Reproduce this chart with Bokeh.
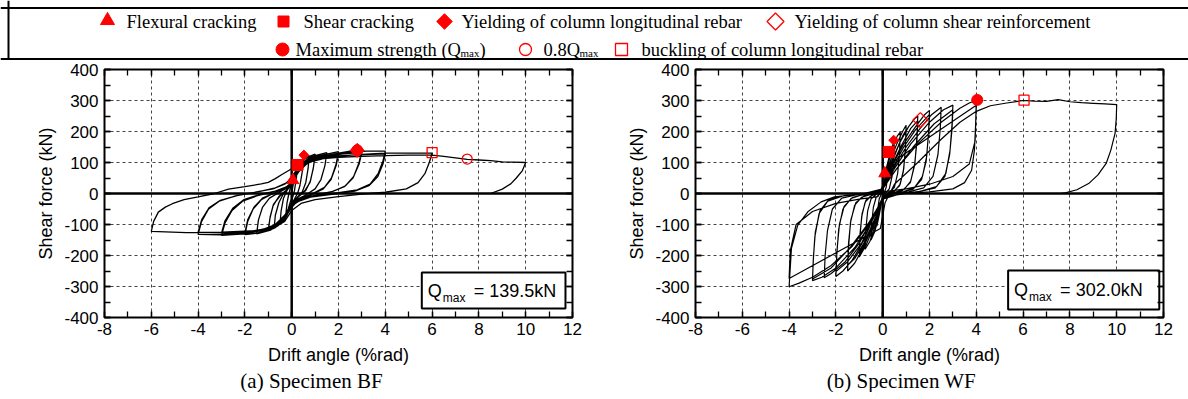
import math
from bokeh.plotting import figure
from bokeh.models import Span, LinearAxis, FixedTicker, Range1d
from bokeh.layouts import column, row
from bokeh.embed import file_html
from bokeh.resources import INLINE
from bokeh.core.properties import value

# ---------------- tick values ----------------
x_ticks = [-8, -6, -4, -2, 0, 2, 4, 6, 8, 10, 12]
x_minor = [-8, -7, -6, -5, -4, -3, -2, -1, 0, 1, 2, 3, 4, 5, 6, 7, 8, 9, 10, 11, 12]
y_ticks = [-400, -300, -200, -100, 0, 100, 200, 300, 400]
y_minor = [-400, -350, -300, -250, -200, -150, -100, -50, 0, 50, 100, 150, 200, 250, 300, 350, 400]

legend_row1 = ["Flexural cracking", "Shear cracking",
               "Yielding of column longitudinal rebar", "Yielding of column shear reinforcement"]
legend_row2 = ["Maximum strength (Q", "0.8Q", "buckling of column longitudinal rebar"]

captions = ["(a) Specimen BF", "(b) Specimen WF"]
qmax_values = ["= 139.5kN", "= 302.0kN"]

# ---------------- Specimen BF (drift %rad, shear kN) ----------------
bf_small_cycles = [
    (0, 0), (0.1, 45), (0.25, 90),
    (0.2, 50), (0.12, 10), (0.05, -10), (-0.05, -25), (-0.15, -50), (-0.25, -68),
    (-0.2, -30), (-0.12, 0), (-0.05, 20), (0.05, 45),
    (0.15, 70), (0.3, 100), (0.5, 113),
    (0.45, 70), (0.35, 25), (0.25, 0), (0.1, -20), (-0.05, -40), (-0.2, -70), (-0.35, -88), (-0.5, -97),
    (-0.45, -55), (-0.35, -15), (-0.2, 10), (0, 30),
    (0.15, 60), (0.3, 95), (0.5, 112), (0.75, 122),
    (0.7, 80), (0.6, 35), (0.45, 5), (0.2, -15), (0, -30), (-0.2, -65), (-0.4, -92), (-0.6, -105), (-0.75, -112),
    (-0.7, -70), (-0.55, -30), (-0.35, 0), (-0.1, 20), (0.05, 40),
    (0.2, 75), (0.45, 105), (0.7, 118), (1, 127),
    (0.93, 85), (0.8, 40), (0.6, 10), (0.3, -10), (0, -30), (-0.2, -60), (-0.45, -92), (-0.7, -110), (-1, -120),
    (-0.93, -80), (-0.8, -40), (-0.55, -10), (-0.25, 10), (0, 30),
    (0.2, 65), (0.5, 100), (0.75, 115), (1, 122),
    (0.92, 80), (0.78, 35), (0.55, 8), (0.25, -12), (0, -32), (-0.25, -65), (-0.5, -95), (-0.75, -108), (-1, -116),
    (-0.92, -75), (-0.78, -35), (-0.5, -8), (-0.2, 12), (0, 28),
]
bf_mid_cycles = [
    (0.25, 75), (0.5, 102), (1, 122), (1.5, 132),
    (1.42, 90), (1.25, 45), (1, 15), (0.6, -5), (0.2, -20), (0, -35), (-0.2, -60), (-0.5, -95), (-0.9, -118), (-1.5, -130),
    (-1.42, -85), (-1.25, -45), (-0.95, -15), (-0.5, 5), (-0.15, 20), (0, 35),
    (0.25, 72), (0.5, 98), (1, 118), (1.5, 127), (2, 135),
    (1.9, 95), (1.7, 50), (1.4, 20), (0.9, 0), (0.4, -15), (0.1, -30), (0, -40), (-0.2, -65), (-0.5, -95), (-1, -118),
    (-1.5, -128), (-2, -133),
    (-1.88, -90), (-1.65, -50), (-1.3, -20), (-0.8, 0), (-0.3, 15), (0, 30),
    (0.3, 75), (0.6, 100), (1, 112), (1.5, 122), (2, 128),
    (1.9, 90), (1.68, 45), (1.35, 15), (0.8, -5), (0.3, -18), (0, -38), (-0.3, -72), (-0.6, -100), (-1, -113),
    (-1.5, -122), (-2, -127),
    (-1.88, -85), (-1.62, -45), (-1.25, -15), (-0.7, 3), (-0.25, 18), (0, 32),
    (0.3, 72), (0.6, 98), (1, 115), (2, 130), (2.5, 137), (3, 140),
    (2.88, 100), (2.65, 55), (2.3, 25), (1.8, 8), (1, -5), (0.4, -18), (0, -35), (-0.2, -60), (-0.5, -90), (-1, -115),
    (-2, -130), (-3, -135),
    (-2.85, -95), (-2.55, -55), (-2.1, -25), (-1.5, -8), (-0.8, 5), (-0.3, 18), (0, 35),
    (0.3, 70), (0.7, 100), (1.5, 120), (2.2, 128), (3, 133),
    (2.88, 95), (2.62, 50), (2.25, 22), (1.7, 5), (0.9, -8), (0.3, -22), (0, -38), (-0.3, -70), (-0.7, -100),
    (-1.2, -115), (-2, -125), (-3, -128),
    (-2.85, -88), (-2.52, -48), (-2.05, -20), (-1.4, -4), (-0.7, 8), (-0.2, 22), (0, 38),
]
bf_large_cycles = [
    (0.3, 75), (0.7, 103), (1.5, 122), (2.5, 133), (3.2, 137), (4, 137),
    (3.9, 105), (3.7, 65), (3.35, 30), (2.8, 12), (2, 3), (1, -8), (0.4, -20), (0, -40), (-0.2, -65), (-0.5, -92),
    (-1, -113), (-2, -128), (-3, -133), (-4, -132),
    (-3.85, -90), (-3.55, -50), (-3.1, -25), (-2.4, -8), (-1.5, 5), (-0.8, 15), (-0.3, 30), (0, 50),
    (0.3, 80), (0.8, 102), (1.5, 115), (2.5, 124), (4, 128),
    (3.9, 95), (3.68, 55), (3.3, 25), (2.7, 8), (1.8, -2), (0.8, -12), (0.2, -28), (0, -45), (-0.3, -80),
    (-0.7, -105), (-1.5, -120), (-3, -127), (-4, -125),
    (-3.85, -85), (-3.52, -45), (-3.05, -22), (-2.3, -6), (-1.4, 6), (-0.7, 18), (-0.2, 35), (0, 55),
    (0.4, 95), (1, 112), (2, 121), (3, 126), (4, 130), (5, 130), (6, 130),
    (5.88, 100), (5.7, 65), (5.4, 35), (4.9, 15), (4, 4), (3, -2), (2, -10), (1, -20), (0.4, -32), (0, -55),
    (-0.3, -90), (-0.7, -108), (-1.5, -120), (-3, -125), (-4.5, -126), (-6, -122),
    (-5.9, -90), (-5.7, -60), (-5.4, -44), (-5.1, -33), (-4.6, -20), (-4, -11), (-3.3, 0), (-2.7, 14), (-2, 22),
    (-1.3, 31), (-1, 36), (-0.7, 48), (-0.4, 62), (0, 80),
    (0.4, 100), (1, 110), (2, 117), (3, 120), (4, 122), (5, 124), (6, 124), (6.5, 120), (7, 115), (7.5, 110),
    (8, 108), (8.5, 106), (9, 102), (9.5, 101), (10, 100),
    (9.86, 74), (9.6, 50), (9.36, 31), (9, 14), (8.5, 0),
]

# ---------------- Specimen WF ----------------
wf_small_cycles = [
    (0, 0), (0.1, 55), (0.25, 110),
    (0.22, 60), (0.15, 20), (0.05, 0), (-0.05, -30), (-0.15, -70), (-0.25, -105),
    (-0.22, -55), (-0.15, -18), (-0.05, 0), (0.05, 30),
    (0.15, 80), (0.35, 140), (0.5, 172),
    (0.47, 110), (0.4, 55), (0.28, 15), (0.1, 0), (-0.05, -30), (-0.2, -85), (-0.35, -125), (-0.5, -150),
    (-0.47, -95), (-0.4, -45), (-0.28, -12), (-0.1, 0), (0.05, 25),
    (0.2, 90), (0.45, 150), (0.62, 185), (0.75, 198),
    (0.72, 130), (0.64, 65), (0.5, 20), (0.3, 5), (0.05, -5), (-0.1, -40), (-0.3, -100), (-0.55, -155), (-0.75, -180),
    (-0.72, -115), (-0.64, -55), (-0.5, -18), (-0.3, -4), (-0.05, 5), (0.1, 30),
    (0.3, 100), (0.6, 160), (0.85, 200), (1, 220),
    (0.97, 150), (0.9, 80), (0.75, 30), (0.5, 8), (0.2, 0), (0, -15), (-0.15, -50), (-0.4, -110), (-0.7, -165), (-1, -205),
    (-0.97, -140), (-0.9, -75), (-0.75, -28), (-0.5, -8), (-0.2, 2), (0, 15),
    (0.3, 80), (0.6, 140), (0.85, 185), (1, 205),
    (0.97, 140), (0.88, 70), (0.72, 25), (0.45, 6), (0.15, 0), (0, -15), (-0.2, -55), (-0.5, -115), (-0.8, -165), (-1, -190),
    (-0.97, -130), (-0.88, -65), (-0.72, -22), (-0.45, -5), (-0.15, 3), (0, 18),
]
wf_mid_cycles = [
    (0.3, 90), (0.7, 160), (1.1, 215), (1.35, 240), (1.5, 250),
    (1.46, 180), (1.38, 100), (1.2, 40), (0.9, 12), (0.5, 4), (0.1, -5), (-0.1, -30), (-0.4, -100), (-0.8, -170),
    (-1.2, -225), (-1.5, -250),
    (-1.46, -175), (-1.38, -95), (-1.2, -38), (-0.9, -12), (-0.5, -3), (-0.1, 5), (0.05, 20),
    (0.35, 85), (0.8, 155), (1.2, 210), (1.5, 235),
    (1.46, 165), (1.36, 90), (1.18, 35), (0.85, 10), (0.4, 2), (0, -10), (-0.3, -75), (-0.8, -160), (-1.2, -210), (-1.5, -232),
    (-1.46, -160), (-1.36, -85), (-1.15, -30), (-0.8, -8), (-0.3, 2), (0, 15),
    (0.4, 90), (0.9, 160), (1.4, 215), (1.8, 255), (2, 268),
    (1.96, 200), (1.88, 120), (1.7, 55), (1.35, 18), (0.9, 6), (0.4, 0), (0, -12), (-0.3, -60), (-0.8, -150),
    (-1.3, -215), (-1.7, -250), (-2, -268),
    (-1.96, -195), (-1.88, -115), (-1.7, -50), (-1.35, -16), (-0.9, -5), (-0.4, 2), (0, 12),
    (0.4, 80), (0.9, 150), (1.4, 205), (2, 255),
    (1.95, 185), (1.86, 105), (1.66, 45), (1.3, 14), (0.8, 4), (0.3, -2), (0, -15), (-0.4, -80), (-0.9, -160),
    (-1.5, -220), (-2, -252),
    (-1.95, -180), (-1.85, -100), (-1.65, -42), (-1.3, -13), (-0.8, -3), (-0.3, 3), (0, 15),
    (0.4, 75), (1, 150), (1.6, 210), (2.1, 255), (2.5, 278),
    (2.46, 210), (2.36, 125), (2.15, 55), (1.75, 18), (1.1, 5), (0.5, 0), (0, -15), (-0.5, -90), (-1, -160),
    (-1.6, -220), (-2.2, -258), (-2.5, -272),
    (-2.46, -200), (-2.36, -120), (-2.15, -50), (-1.75, -15), (-1.1, -4), (-0.5, 2), (0, 14),
    (0.5, 80), (1.2, 160), (2, 230), (2.6, 270), (3, 285),
    (2.96, 220), (2.88, 140), (2.7, 65), (2.3, 22), (1.6, 7), (0.8, 0), (0.2, -10), (0, -20), (-0.5, -95),
    (-1.2, -175), (-2, -240), (-2.6, -270), (-3, -281),
    (-2.97, -220), (-2.9, -140), (-2.72, -65), (-2.35, -25), (-1.7, -8), (-0.9, -1), (-0.2, 8), (0, 18),
    (0.5, 70), (1.3, 150), (2.2, 225), (3, 270),
    (2.96, 205), (2.86, 125), (2.66, 55), (2.25, 18), (1.5, 5), (0.7, -2), (0, -18), (-0.6, -95), (-1.4, -175),
    (-2.2, -240), (-3, -276),
    (-2.96, -205), (-2.88, -125), (-2.68, -55), (-2.3, -20), (-1.6, -6), (-0.8, 0), (0, 15),
]
wf_large_cycles = [
    (0.6, 80), (1.5, 160), (2.5, 230), (3.3, 275), (3.7, 292), (4, 301),
    (3.97, 220), (3.92, 140), (3.8, 75), (3.5, 35), (3, 15), (2, 5), (1, 0), (0, -12),
    (-0.5, -90), (-1.3, -170), (-2.2, -232), (-3, -270), (-3.6, -290), (-4, -301),
    (-3.9, -177), (-3.63, -102), (-3.2, -59), (-2.63, -27), (-2.06, -11), (-1, -2), (0, 5),
    (1, 15), (2, 30), (3, 55), (3.7, 95), (3.95, 170), (4, 285),
    (0.3, 95), (0, 25), (-0.2, -10),
    (-1, -18), (-2, -32), (-3, -58), (-3.7, -100), (-3.95, -185), (-4, -274),
    (-0.1, -113), (0.1, -30),
    (0.5, 30), (1.5, 100), (2.5, 175), (3.3, 230), (4, 265), (4.6, 283), (5.3, 292), (6, 300), (6.5, 298),
    (7, 297), (7.5, 303), (8, 296), (8.5, 293), (9, 291), (9.5, 289), (10, 287),
    (9.98, 240), (9.93, 194), (9.75, 140), (9.55, 97), (9.2, 60), (8.8, 32), (8.3, 12), (7.8, 2), (7.6, 0),
]

bf_points = bf_small_cycles + bf_mid_cycles + bf_large_cycles
wf_points = wf_small_cycles + wf_mid_cycles + wf_large_cycles
bf_drift = [p[0] for p in bf_points]
bf_shear = [p[1] for p in bf_points]
wf_drift = [p[0] for p in wf_points]
wf_shear = [p[1] for p in wf_points]

# event markers (drift, shear)
bf_flexural = ([0.05], [43])
bf_shear_crack = ([0.25], [92])
bf_yield_long = ([0.52, 2.8], [124, 139])
bf_qmax = ([2.8], [139.5])
bf_08qmax = ([7.5], [111])
bf_buckling = ([6.0], [132])

wf_flexural = ([0.09], [65])
wf_shear_crack = ([0.26], [134])
wf_yield_long = ([0.47], [172])
wf_yield_shear = ([1.61], [237])
wf_qmax = ([4.04], [302])
wf_buckling = ([6.04], [301])

RED = "#ff0000"
SANS = "Liberation Sans"
SERIF = "Liberation Serif"
DIAM = math.pi / 4


def style_axis(ax, labels=True):
    ax.axis_line_color = None
    ax.major_tick_in = 6
    ax.major_tick_out = 0
    ax.minor_tick_in = 6
    ax.minor_tick_out = 0
    ax.major_tick_line_color = "black"
    ax.minor_tick_line_color = "black"
    ax.major_tick_line_width = 1.3
    ax.minor_tick_line_width = 1.3
    ax.major_label_text_font = SANS
    ax.axis_label_text_font = SANS
    ax.axis_label_text_font_size = "18px"
    ax.axis_label_text_font_style = "normal"
    ax.axis_label_text_color = "black"
    if labels:
        ax.major_label_text_font_size = "17px"
        ax.major_label_text_color = "black"
    else:
        ax.major_label_text_font_size = "1px"
        ax.major_label_text_color = None
        ax.major_label_standoff = 0


def make_plot(drift, shear, border_right, lw):
    p = figure(frame_width=468, frame_height=248, x_range=Range1d(-8, 12), y_range=Range1d(-400, 400),
               min_border_left=104, min_border_right=border_right, min_border_top=9, min_border_bottom=52,
               output_backend="svg", toolbar_location=None)
    p.outline_line_color = "black"
    p.outline_line_width = 2
    xt = FixedTicker(ticks=x_ticks, minor_ticks=x_minor)
    yt = FixedTicker(ticks=y_ticks, minor_ticks=y_minor)
    xa = p.xaxis[0]
    ya = p.yaxis[0]
    xa.ticker = xt
    ya.ticker = yt
    style_axis(xa)
    style_axis(ya)
    xa.major_label_overrides = {t: str(t) for t in x_ticks}
    ya.major_label_overrides = {t: str(t) for t in y_ticks}
    xa.axis_label = "Drift angle (%rad)"
    ya.axis_label = "Shear force (kN)"
    xa.major_label_standoff = 5
    xa.axis_label_standoff = 7
    ya.major_label_standoff = 6
    ya.axis_label_standoff = 5
    top = LinearAxis(ticker=xt)
    style_axis(top, labels=False)
    p.add_layout(top, "above")
    right = LinearAxis(ticker=yt)
    style_axis(right, labels=False)
    p.add_layout(right, "right")
    for g, t in ((p.xgrid[0], xt), (p.ygrid[0], yt)):
        g.ticker = t
        g.grid_line_color = "#444444"
        g.grid_line_dash = "3 3"
        g.grid_line_width = 1
    p.add_layout(Span(location=0, dimension="height", line_color="black", line_width=2.5, level="underlay"))
    p.add_layout(Span(location=0, dimension="width", line_color="black", line_width=2.5, level="underlay"))
    p.line(drift, shear, line_color="black", line_width=lw)
    return p


def qbox(p, left, right, top, bottom, rest):
    p.quad(left=[left], right=[right], top=[top], bottom=[bottom], fill_color="white",
           line_color="black", line_width=2)
    mid = (top + bottom) / 2
    p.text([left], [mid], text=["Q"], x_offset=6, text_baseline="middle",
           text_font=value(SANS), text_font_size="18px", text_color="black")
    p.text([left], [mid], text=["max"], x_offset=21, y_offset=7, text_baseline="middle",
           text_font=value(SANS), text_font_size="12px", text_color="black")
    p.text([left], [mid], text=[rest], x_offset=52, text_baseline="middle",
           text_font=value(SANS), text_font_size="18px", text_color="black")


# ---- Plot (a) BF
p1 = make_plot(bf_drift, bf_shear, 19, 1.3)
qbox(p1, 5.56, 11.7, -255, -371, qmax_values[0])
p1.scatter(*bf_qmax, marker="circle", size=11, fill_color=RED, line_color=RED)
p1.scatter(*bf_flexural, marker="triangle", size=12, fill_color=RED, line_color=RED)
p1.scatter(*bf_shear_crack, marker="square", size=11, fill_color=RED, line_color=RED)
p1.scatter(bf_yield_long[0], bf_yield_long[1], marker="square", size=[7, 10], angle=DIAM,
           fill_color=RED, line_color=RED)
p1.scatter(*bf_buckling, marker="square", size=10, fill_color=None, line_color=RED, line_width=1.3)
p1.scatter(*bf_08qmax, marker="circle", size=10, fill_color=None, line_color=RED, line_width=1.3)

# ---- Plot (b) WF
p2 = make_plot(wf_drift, wf_shear, 17, 1.2)
qbox(p2, 5.36, 11.82, -248, -374, qmax_values[1])
p2.scatter(*wf_flexural, marker="triangle", size=12, fill_color=RED, line_color=RED)
p2.scatter(*wf_shear_crack, marker="square", size=11, fill_color=RED, line_color=RED)
p2.scatter(*wf_yield_long, marker="square", size=7, angle=DIAM, fill_color=RED, line_color=RED)
p2.scatter(*wf_yield_shear, marker="square", size=10.5, angle=DIAM, fill_color=None, line_color=RED,
           line_width=1.3)
p2.scatter(*wf_qmax, marker="circle", size=11, fill_color=RED, line_color=RED)
p2.scatter(*wf_buckling, marker="square", size=10, fill_color=None, line_color=RED, line_width=1.3)

# ---- Legend strip
LW, LH = 1188, 60
lg = figure(width=LW, height=LH, x_range=Range1d(0, LW), y_range=Range1d(0, LH), min_border=0,
            x_axis_type=None, y_axis_type=None, output_backend="svg", toolbar_location=None)
lg.outline_line_color = None
lg.grid.visible = False
lg.add_layout(Span(location=52.5, dimension="width", line_color="black", line_width=2))
lg.add_layout(Span(location=1.5, dimension="width", line_color="black", line_width=2))
lg.add_layout(Span(location=8, dimension="height", line_color="black", line_width=2))

r1y, r2y = 39, 11
lg.scatter([107], [r1y + 1], marker="triangle", size=14, fill_color=RED, line_color=RED)
lg.scatter([283], [r1y], marker="square", size=11, fill_color=RED, line_color=RED)
lg.scatter([444], [r1y], marker="square", size=11, angle=DIAM, fill_color=RED, line_color=RED)
lg.scatter([775], [r1y], marker="square", size=12, angle=DIAM, fill_color=None, line_color=RED, line_width=1.3)
lg.scatter([282], [r2y], marker="circle", size=13, fill_color=RED, line_color=RED)
lg.scatter([525], [r2y], marker="circle", size=12, fill_color=None, line_color=RED, line_width=1.3)
lg.scatter([621], [r2y], marker="square", size=12, fill_color=None, line_color=RED, line_width=1.3)

lt = dict(text_baseline="middle", text_align="left", text_font=value(SERIF), text_color="black")
lg.text([126, 303, 461, 794], [r1y] * 4, text=legend_row1, text_font_size="18.5px", **lt)
lg.text([295, 543, 641], [r2y] * 3, text=legend_row2, text_font_size="18.5px", **lt)
lg.text([460, 579], [r2y - 3] * 2, text=["max", "max"], text_font_size="11px", **lt)
lg.text([479], [r2y], text=[")"], text_font_size="18.5px", **lt)


# ---- Captions
CH = 23
def caption_fig(width, cx, txt):
    c = figure(width=width, height=CH, x_range=Range1d(0, width), y_range=Range1d(0, CH), min_border=0,
               x_axis_type=None, y_axis_type=None, output_backend="svg", toolbar_location=None)
    c.outline_line_color = None
    c.grid.visible = False
    c.text([cx], [CH / 2], text=[txt], text_align="center", text_baseline="middle",
           text_font=value(SERIF), text_font_size="21px", text_color="black")
    return c


c1 = caption_fig(591, 311, captions[0])
c2 = caption_fig(589, 310, captions[1])

layout = column(lg, row(p1, p2), row(c1, c2))
open("out.html", "w").write(file_html(layout, INLINE))
